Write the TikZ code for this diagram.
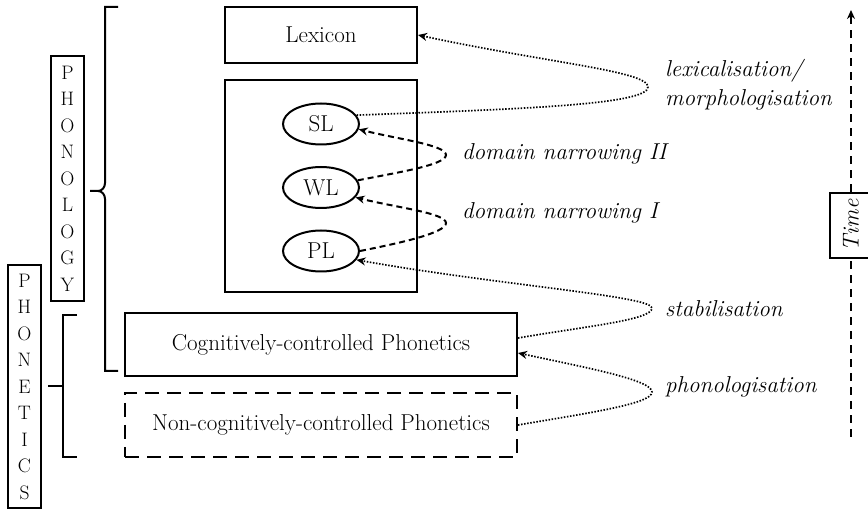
\documentclass[tikz,border=0pt]{standalone}
\usepackage{fontspec}
\usetikzlibrary{arrows.meta, positioning, shapes.geometric}
\tikzset{
  box/.style={rectangle,draw,line width=2pt,inner sep=0pt,font=\fontsize{23}{27}\selectfont},
  level/.style={ellipse,draw,line width=2pt,minimum width=76pt,minimum height=41pt,inner sep=0pt,font=\fontsize{23}{27}\selectfont},
  tag/.style={rectangle,draw,line width=2pt,align=center,inner sep=0pt,minimum width=33pt,font=\fontsize{19.5}{26.5}\selectfont},
  note/.style={anchor=base west,inner sep=0pt,font=\fontsize{23}{27}\selectfont\itshape},
  dotline/.style={line width=1.7pt,dash pattern=on 1.5pt off 1.6pt,-{Stealth[length=9pt,width=8pt]}},
  dashline/.style={line width=2pt,dash pattern=on 6pt off 4pt,-{Stealth[length=9pt,width=8pt]}},
  timeline/.style={line width=2pt,dash pattern=on 8pt off 6pt},
  bracket/.style={line width=2pt}
}

\begin{document}
\begin{tikzpicture}[x=1pt,y=-1pt,node distance=20.5pt]
\useasboundingbox (0,0) rectangle (868,510);

% boxes
\node[box, minimum width=192pt, minimum height=56pt] (lexicon) at (321,35) {Lexicon};
\node[box, minimum width=192pt, minimum height=212pt] (core) at (321,186.5) {};
\node[level] (wl) at (321,187.5) {WL};
\node[level, above=of wl] (sl) {SL};
\node[level, below=of wl] (pl) {PL};
\node[box, minimum width=392pt, minimum height=63pt] (cog) at (321,344.5) {Cognitively-controlled Phonetics};
\node[box, dash pattern=on 14pt off 8pt, minimum width=392pt, minimum height=64pt] (noncog) at (321,425) {Non-cognitively-controlled Phonetics};

% side tags
\node[tag, minimum height=245pt] (phonology) at (67.5,178.5) {P\\H\\O\\N\\O\\L\\O\\G\\Y};
\node[tag, minimum height=243pt] (phonetics) at (24.5,386.5) {P\\H\\O\\N\\E\\T\\I\\C\\S};

% brackets
\draw[bracket] (118,7) -- (105,7) -- (105,183) to[out=-90,in=0] (98,191) -- (90,191);
\draw[bracket] (98,191) to[out=0,in=90] (105,199) -- (105,371) -- (118,371);
\draw[bracket] (77,315) -- (63,315) -- (63,457) -- (77,457);
\draw[bracket] (48,386) -- (63,386);

% labels
\node[note] (lexnote) at (665,77) {lexicalisation/};
\node[note] (morphnote) at (665,106) {morphologisation};
\node[note] (dnnote2) at (462,160) {domain narrowing II};
\node[note] (dnnote1) at (462,219) {domain narrowing I};
\node[note] (stabnote) at (665,317) {stabilisation};
\node[note] (phonnote) at (665,393) {phonologisation};

% processes
\draw[dotline] (sl.14) .. controls +(160,-6) and +(0,18) .. (648,87)
  .. controls +(0,-16) and +(130,28) .. (lexicon.east);
\draw[dashline] (wl.11) .. controls +(40,-8) and +(0,10) .. (446,155)
  .. controls +(0,-10) and +(40,10) .. (sl.-8);
\draw[dashline] (pl.east) .. controls +(40,-8) and +(0,10) .. (446,223)
  .. controls +(0,-10) and +(40,10) .. (wl.-16);
\draw[dotline] ([yshift=6.5pt]cog.east) .. controls +(70,-12) and +(0,12) .. (652,308)
  .. controls +(0,-12) and +(140,25) .. (pl.-14);
\draw[dotline] (noncog.east) .. controls +(70,-12) and +(0,12) .. (652,392)
  .. controls +(0,-12) and +(70,15) .. ([yshift=-8.5pt]cog.east);

% time axis
\coordinate (tbot) at (851,437);
\coordinate (ttop) at (851,10);
\node[box, rotate=90, minimum width=65pt, minimum height=42pt, font=\fontsize{23}{27}\selectfont\itshape] (time) at (851,225.5) {Time};
\draw[timeline] (tbot) -- (time);
\draw[timeline, -{Stealth[length=9pt,width=8pt]}] (time) -- (ttop);
\end{tikzpicture}
\end{document}
